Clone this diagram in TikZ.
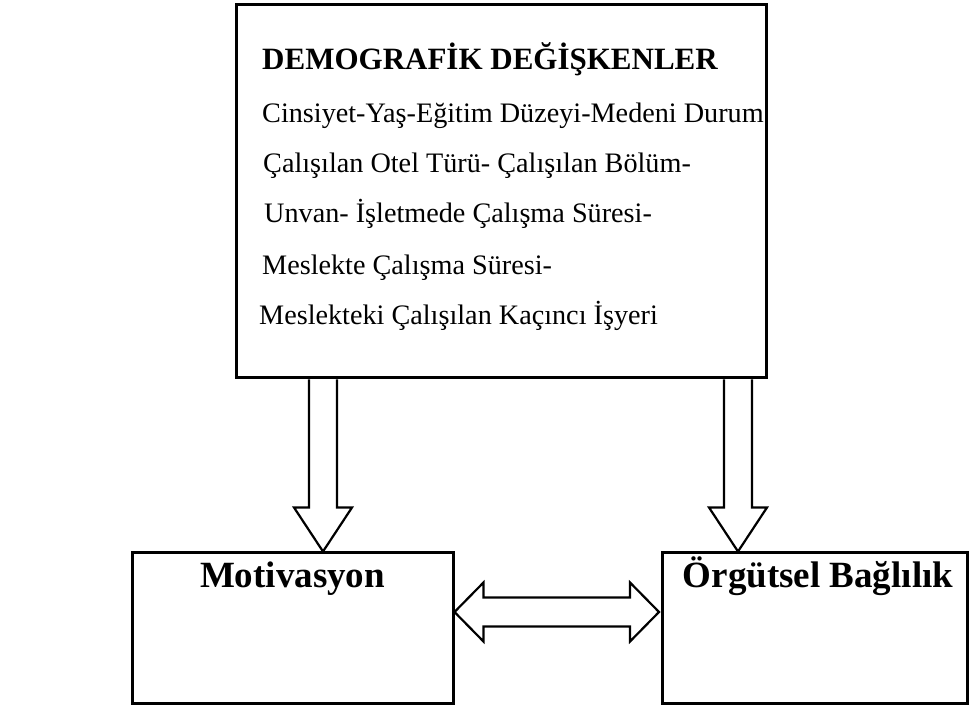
\documentclass[tikz,border=0pt]{standalone}
\usepackage{fontspec}
\setmainfont{Liberation Serif}
\usetikzlibrary{calc}

\tikzset{
  box/.style={draw, rectangle, line width=3pt, inner sep=0pt},
  blockarr/.style={draw, line width=2.2pt, line join=miter, fill=white},
  titletext/.style={font=\bfseries\fontsize{31}{31}\selectfont, inner sep=0pt, anchor=base west},
  linetext/.style={font=\fontsize{28.2}{28.2}\selectfont, inner sep=0pt, anchor=base west},
  boxlabel/.style={font=\bfseries\fontsize{37}{37}\selectfont, inner sep=0pt, anchor=base}
}

\begin{document}
\begin{tikzpicture}[x=1pt,y=-1pt]
  \useasboundingbox (0,0) rectangle (970,708);

  % Box with the demographic variables
  \node[box, minimum width=530pt, minimum height=373pt] (demo) at (501,191.5) {};
  \node[titletext] (demotitle) at (262,70) {DEMOGRAFİK DEĞİŞKENLER};
  \foreach \x/\y/\t [count=\i] in {
      262/123/{Cinsiyet-Yaş-Eğitim Düzeyi-Medeni Durum},
      263/173/{Çalışılan Otel Türü- Çalışılan Bölüm-},
      264/223/{Unvan- İşletmede Çalışma Süresi-},
      262/275/{Meslekte Çalışma Süresi-},
      259/325/{Meslekteki Çalışılan Kaçıncı İşyeri}}
    \node[linetext] (dl\i) at (\x,\y) {\t};

  % The two boxes below
  \node[box, minimum width=321pt, minimum height=150pt] (mot) at (292.5,628) {};
  \node[box, minimum width=305pt, minimum height=150pt] (org) at (815,628) {};
  \node[boxlabel] (motlbl) at ($(mot.north)+(0,36)$) {Motivasyon};
  \node[boxlabel] (orglbl) at ($(org.north)+(3,36)$) {Örgütsel Bağlılık};

  % Block arrows down to the boxes
  \coordinate (ltip) at ($(mot.north)+(30.5,0)$);
  \coordinate (rtip) at ($(org.north)+(-77,0)$);
  \foreach \t in {ltip,rtip}
    \draw[blockarr] ($(\t |- demo.south)+(-14,0)$) -- ($(\t)+(-14,-44)$)
      -- ($(\t)+(-29,-44)$) -- (\t) -- ($(\t)+(29,-44)$)
      -- ($(\t)+(14,-44)$) -- ($(\t |- demo.south)+(14,0)$);

  % Double arrow between the boxes
  \coordinate (ha) at ($(mot.east)+(0,-16)$);
  \coordinate (hb) at ($(org.west)+(-2,-16)$);
  \draw[blockarr] (ha) -- ($(ha)+(29,-29.5)$) -- ($(ha)+(29,-14.5)$)
    -- ($(hb)+(-29,-14.5)$) -- ($(hb)+(-29,-29.5)$) -- (hb)
    -- ($(hb)+(-29,29.5)$) -- ($(hb)+(-29,14.5)$) -- ($(ha)+(29,14.5)$)
    -- ($(ha)+(29,29.5)$) -- cycle;
\end{tikzpicture}
\end{document}
